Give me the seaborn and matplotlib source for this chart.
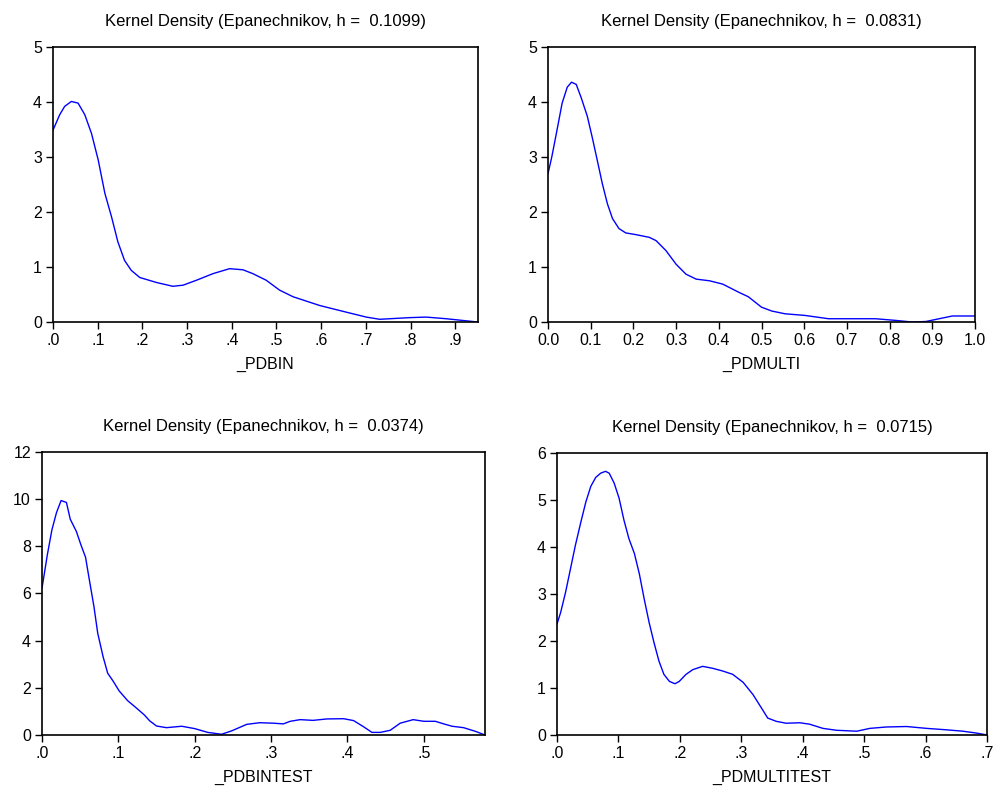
import numpy as np
import pandas as pd
import matplotlib
matplotlib.use("Agg")
import matplotlib.pyplot as plt
import seaborn as sns

# ---- data ----
pdbin_x = [0.0, 0.015, 0.026, 0.041, 0.056, 0.071, 0.086, 0.101, 0.116, 0.131, 0.145, 0.160,
           0.175, 0.194, 0.231, 0.268, 0.291, 0.321, 0.358, 0.395, 0.425, 0.447, 0.477, 0.507,
           0.537, 0.567, 0.597, 0.656, 0.701, 0.731, 0.798, 0.835, 0.880, 0.951]
pdbin_y = [3.49, 3.77, 3.92, 4.01, 3.98, 3.77, 3.43, 2.95, 2.34, 1.91, 1.46, 1.12,
           0.94, 0.81, 0.72, 0.65, 0.67, 0.76, 0.88, 0.97, 0.95, 0.88, 0.76, 0.58,
           0.46, 0.38, 0.30, 0.18, 0.09, 0.05, 0.08, 0.09, 0.06, 0.0]

pdmulti_x = [0.0, 0.009, 0.021, 0.033, 0.045, 0.055, 0.066, 0.078, 0.092, 0.104, 0.115, 0.127,
             0.139, 0.151, 0.166, 0.182, 0.205, 0.237, 0.253, 0.276, 0.300, 0.323, 0.347, 0.378,
             0.409, 0.447, 0.469, 0.500, 0.524, 0.555, 0.602, 0.657, 0.704, 0.767, 0.814, 0.853,
             0.885, 0.916, 0.947, 1.0]
pdmulti_y = [2.70, 3.01, 3.49, 3.98, 4.27, 4.36, 4.32, 4.07, 3.74, 3.34, 2.95, 2.52,
             2.15, 1.88, 1.70, 1.62, 1.59, 1.54, 1.48, 1.30, 1.05, 0.87, 0.78, 0.75,
             0.69, 0.54, 0.46, 0.27, 0.20, 0.15, 0.12, 0.06, 0.06, 0.06, 0.03, 0.0,
             0.01, 0.06, 0.11, 0.11]

pdbintest_x = [0.0, 0.007, 0.013, 0.019, 0.025, 0.032, 0.037, 0.045, 0.051, 0.057, 0.062, 0.068,
               0.073, 0.080, 0.086, 0.093, 0.101, 0.112, 0.123, 0.134, 0.141, 0.150, 0.163, 0.183,
               0.200, 0.217, 0.235, 0.248, 0.268, 0.285, 0.303, 0.316, 0.325, 0.338, 0.355, 0.373,
               0.395, 0.408, 0.421, 0.432, 0.443, 0.456, 0.469, 0.486, 0.500, 0.515, 0.526, 0.537,
               0.552, 0.567, 0.580]
pdbintest_y = [6.22, 7.64, 8.70, 9.43, 9.94, 9.86, 9.15, 8.63, 8.06, 7.54, 6.58, 5.45,
               4.31, 3.32, 2.62, 2.29, 1.87, 1.46, 1.16, 0.85, 0.60, 0.38, 0.31, 0.37,
               0.27, 0.11, 0.03, 0.17, 0.45, 0.52, 0.50, 0.47, 0.58, 0.65, 0.62, 0.68,
               0.69, 0.61, 0.35, 0.11, 0.11, 0.20, 0.50, 0.65, 0.58, 0.58, 0.47, 0.37,
               0.31, 0.16, 0.0]

pdmultitest_x = [0.0, 0.006, 0.014, 0.022, 0.030, 0.039, 0.047, 0.055, 0.063, 0.071, 0.079, 0.085,
                 0.093, 0.101, 0.109, 0.117, 0.126, 0.134, 0.142, 0.150, 0.158, 0.166, 0.174, 0.183,
                 0.192, 0.199, 0.210, 0.221, 0.237, 0.253, 0.270, 0.286, 0.303, 0.319, 0.333, 0.343,
                 0.357, 0.373, 0.395, 0.411, 0.433, 0.455, 0.488, 0.509, 0.536, 0.569, 0.602, 0.634,
                 0.661, 0.683, 0.700]
pdmultitest_y = [2.36, 2.61, 3.04, 3.54, 4.04, 4.54, 4.96, 5.29, 5.48, 5.57, 5.61, 5.57,
                 5.36, 5.04, 4.57, 4.18, 3.86, 3.43, 2.89, 2.39, 1.96, 1.57, 1.29, 1.14,
                 1.09, 1.14, 1.29, 1.39, 1.46, 1.42, 1.36, 1.29, 1.12, 0.86, 0.57, 0.36,
                 0.29, 0.25, 0.26, 0.23, 0.14, 0.10, 0.08, 0.14, 0.17, 0.18, 0.14, 0.11,
                 0.08, 0.04, 0.0]

titles = ["Kernel Density (Epanechnikov, h =  0.1099)",
          "Kernel Density (Epanechnikov, h =  0.0831)",
          "Kernel Density (Epanechnikov, h =  0.0374)",
          "Kernel Density (Epanechnikov, h =  0.0715)"]
xlabels = ["_PDBIN", "_PDMULTI", "_PDBINTEST", "_PDMULTITEST"]

xticks1 = [0.0, 0.1, 0.2, 0.3, 0.4, 0.5, 0.6, 0.7, 0.8, 0.9]
xticklabels1 = [".0", ".1", ".2", ".3", ".4", ".5", ".6", ".7", ".8", ".9"]
xticks2 = [0.0, 0.1, 0.2, 0.3, 0.4, 0.5, 0.6, 0.7, 0.8, 0.9, 1.0]
xticklabels2 = ["0.0", "0.1", "0.2", "0.3", "0.4", "0.5", "0.6", "0.7", "0.8", "0.9", "1.0"]
xticks3 = [0.0, 0.1, 0.2, 0.3, 0.4, 0.5]
xticklabels3 = [".0", ".1", ".2", ".3", ".4", ".5"]
xticks4 = [0.0, 0.1, 0.2, 0.3, 0.4, 0.5, 0.6, 0.7]
xticklabels4 = [".0", ".1", ".2", ".3", ".4", ".5", ".6", ".7"]

yticks1 = [0, 1, 2, 3, 4, 5]
yticks2 = [0, 1, 2, 3, 4, 5]
yticks3 = [0, 2, 4, 6, 8, 10, 12]
yticks4 = [0, 1, 2, 3, 4, 5, 6]

xlims = [(0, 0.951), (0, 1.0), (0, 0.580), (0, 0.700)]
ylims = [(0, 5), (0, 5), (0, 12), (0, 6)]

# ---- styling ----
sns.set_style("ticks")
plt.rcParams['font.family'] = ['Liberation Sans', 'DejaVu Sans']

fig = plt.figure(figsize=(9.95, 7.87), dpi=100)
positions = [
    [0.0533, 0.5908, 0.4271, 0.3495],
    [0.5508, 0.5908, 0.4291, 0.3495],
    [0.0422, 0.0661, 0.4452, 0.3596],
    [0.5598, 0.0661, 0.4322, 0.3583],
]
series = [(pdbin_x, pdbin_y), (pdmulti_x, pdmulti_y),
          (pdbintest_x, pdbintest_y), (pdmultitest_x, pdmultitest_y)]
xt = [(xticks1, xticklabels1), (xticks2, xticklabels2),
      (xticks3, xticklabels3), (xticks4, xticklabels4)]
yt = [yticks1, yticks2, yticks3, yticks4]

for i in range(4):
    ax = fig.add_axes(positions[i])
    df = pd.DataFrame({"x": series[i][0], "y": series[i][1]})
    sns.lineplot(data=df, x="x", y="y", ax=ax, color="#0000ff", linewidth=1.0)
    ax.set_xlim(*xlims[i])
    ax.set_ylim(*ylims[i])
    ax.set_xticks(xt[i][0])
    ax.set_xticklabels(xt[i][1])
    ax.set_yticks(yt[i])
    ax.set_yticklabels([str(v) for v in yt[i]])
    ax.set_title(titles[i], fontsize=12, pad=15, color="black")
    ax.set_xlabel(xlabels[i], fontsize=11.5, labelpad=6, color="black")
    ax.set_ylabel("")
    ax.tick_params(direction="out", length=5, width=1, colors="black",
                   labelsize=11.5, pad=3)
    for s in ax.spines.values():
        s.set_visible(True)
        s.set_color("black")
        s.set_linewidth(1.2)

fig.savefig("out.png", dpi=100)
